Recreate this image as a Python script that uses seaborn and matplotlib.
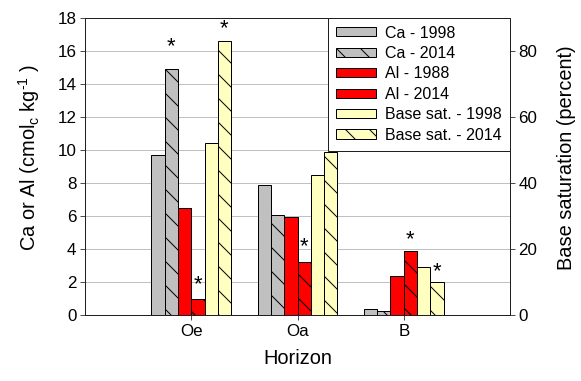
import numpy as np
import pandas as pd
import matplotlib
matplotlib.use("Agg")
import matplotlib.pyplot as plt
from matplotlib.patches import Patch
import seaborn as sns

# ---- data ----
horizons = ["Oe", "Oa", "B"]
series = ["Ca - 1998", "Ca - 2014", "Al - 1988", "Al - 2014",
          "Base sat. - 1998", "Base sat. - 2014"]
ca_1998 = [9.7, 7.85, 0.35]
ca_2014 = [14.9, 6.05, 0.22]
al_1988 = [6.5, 5.92, 2.36]
al_2014 = [0.95, 3.2, 3.9]
bs_1998 = [52.0, 42.3, 14.6]   # percent (right axis)
bs_2014 = [83.0, 49.3, 9.9]    # percent (right axis)
left_max = 18
right_max = 90
# significance stars: (horizon, series, star height on left axis)
stars = [("Oe", "Ca - 2014", 16.25), ("Oe", "Al - 2014", 1.85),
         ("Oe", "Base sat. - 2014", 17.3), ("Oa", "Al - 2014", 4.15),
         ("B", "Al - 2014", 4.55), ("B", "Base sat. - 2014", 2.6)]

colors = ["#c0c0c0", "#c0c0c0", "#ff0000", "#ff0000", "#ffffc0", "#ffffc0"]
hatched = [False, True, False, True, False, True]
legend_hatched = [False, True, False, False, False, True]

ratio = right_max / left_max
values = [ca_1998, ca_2014, al_1988, al_2014,
          [v / ratio for v in bs_1998], [v / ratio for v in bs_2014]]
rows = []
for s, vals in zip(series, values):
    for h, v in zip(horizons, vals):
        rows.append({"Horizon": h, "series": s, "value": v})
df = pd.DataFrame(rows)

plt.rcParams["font.family"] = ["Liberation Sans", "DejaVu Sans"]
plt.rcParams["mathtext.fontset"] = "custom"
plt.rcParams["mathtext.rm"] = "Liberation Sans"
plt.rcParams["mathtext.it"] = "Liberation Sans:italic"
plt.rcParams["mathtext.default"] = "regular"
plt.rcParams["hatch.linewidth"] = 1.0

dpi = 72
fig = plt.figure(figsize=(581 / dpi, 381 / dpi), dpi=dpi)
ax = fig.add_axes([85 / 581, 1 - 315 / 381, 425 / 581, 297.5 / 381])

sns.barplot(data=df, x="Horizon", y="value", hue="series", hue_order=series,
            order=horizons, palette=colors, width=0.75, saturation=1,
            edgecolor="black", linewidth=1.0, legend=False, ax=ax, zorder=2)

for cont, h in zip(ax.containers, hatched):
    for p in cont:
        if h:
            p.set_hatch("\\")

# stars
for hz, s, y in stars:
    p = ax.containers[series.index(s)][horizons.index(hz)]
    xc = p.get_x() + p.get_width() / 2
    ax.text(xc, y, "*", ha="center", va="center", fontsize=22, zorder=5)

ax.set_xlim(-1, 3)
ax.set_ylim(0, left_max)
ax.set_yticks(np.arange(0, left_max + 1, 2))
ax.yaxis.grid(True, color="#c0c0c0", lw=1)
ax.set_axisbelow(True)
for sp in ax.spines.values():
    sp.set_color("#202020")
    sp.set_linewidth(1)
ax.tick_params(axis="both", labelsize=17, length=5, color="#202020", direction="out")
ax.set_xlabel("Horizon", fontsize=20, labelpad=10)
ax.set_ylabel("Ca or Al (cmol$_c$ kg$^{\u20101}$ )", fontsize=20)
ax.yaxis.set_label_coords(-0.101, 0.53)

ax2 = ax.twinx()
ax2.set_ylim(0, right_max)
ax2.set_yticks(np.arange(0, 81, 20))
ax2.tick_params(axis="y", labelsize=17, length=5, color="#202020", direction="out")
for sp in ax2.spines.values():
    sp.set_color("#202020")
ax2.set_ylabel("Base saturation (percent)", fontsize=20)
ax2.yaxis.set_label_coords(1.111, 0.53)

handles = [Patch(facecolor=c, edgecolor="black", linewidth=1,
                 hatch=("\\" if lh else None)) for c, lh in zip(colors, legend_hatched)]
leg = ax2.legend(handles, series, loc="upper right", bbox_to_anchor=(1, 1),
                 borderaxespad=0, fontsize=16, frameon=True, fancybox=False,
                 edgecolor="#202020", framealpha=1, handlelength=2.5,
                 handleheight=0.5, labelspacing=0.34, handletextpad=0.6,
                 borderpad=0.5)
leg.get_frame().set_linewidth(1)

fig.savefig("out.png", dpi=dpi)
